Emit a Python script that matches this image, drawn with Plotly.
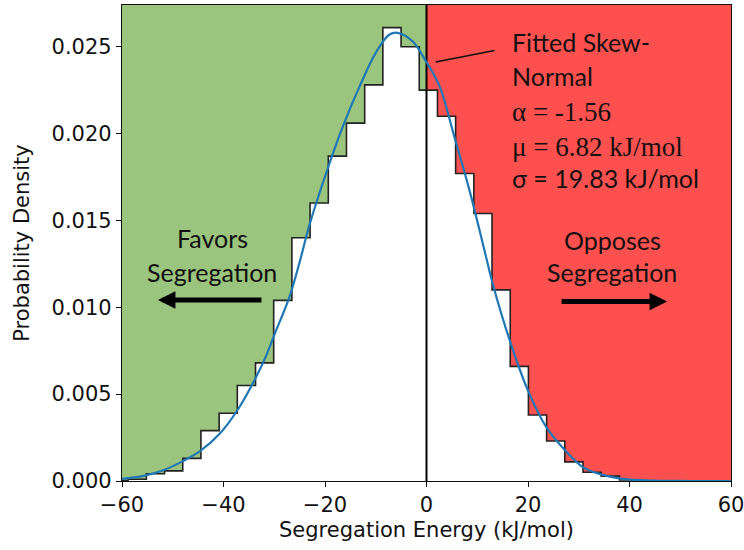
import plotly.graph_objects as go

# ---- data ----
bin_edges = [-62.37, -58.79, -55.20, -51.62, -48.03, -44.45, -40.86, -37.28, -33.69,
             -30.11, -26.52, -22.94, -19.35, -15.77, -12.18, -8.60, -5.01, -1.43,
             2.16, 5.74, 9.33, 12.91, 16.50, 20.08, 23.67, 27.25, 30.84, 34.42,
             38.01, 41.60]
bin_density = [0.00003, 0.0001, 0.00042, 0.00058, 0.0013, 0.0029, 0.0039, 0.0055,
               0.0068, 0.0104, 0.0140, 0.0160, 0.0187, 0.0206, 0.0228, 0.0261,
               0.0250, 0.0225, 0.0210, 0.0177, 0.0154, 0.0110, 0.0066, 0.0038,
               0.0023, 0.0011, 0.0005, 0.00028, 0.00006]

fit_x = [-60, -56, -52, -48.3, -44.7, -40.8, -37.2, -33.9, -31.6, -30.0, -27.0,
         -25.0, -23.1, -19.8, -16.5, -13.2, -9.9, -7.3, -5.7, -2.7, -0.4, 2.6,
         5.5, 8.5, 11.4, 13.1, 16.4, 20.0, 23.6, 27.2, 30.8, 34.7, 38.7, 45, 52, 60]
fit_y = [0.00012, 0.00028, 0.0006, 0.0011, 0.0017, 0.0027, 0.0041, 0.0058, 0.0072,
         0.0084, 0.0106, 0.0126, 0.0147, 0.0177, 0.0204, 0.0227, 0.0247, 0.0257,
         0.0258, 0.0253, 0.0243, 0.0227, 0.0198, 0.0167, 0.0133, 0.0113, 0.0081,
         0.0052, 0.0031, 0.0018, 0.0008, 0.00035, 0.00012, 0.00002, 0.0, 0.0]

x_ticks = [-60, -40, -20, 0, 20, 40, 60]
y_ticks = [0.000, 0.005, 0.010, 0.015, 0.020, 0.025]
x_range = [-60, 60]
y_range = [0, 0.0274]

GREEN = "#9BC47E"
RED = "#FF5050"
INK = "#111111"

centers = [(a + b) / 2 for a, b in zip(bin_edges[:-1], bin_edges[1:])]
widths = [b - a for a, b in zip(bin_edges[:-1], bin_edges[1:])]

step_x = [bin_edges[0]] + bin_edges
step_y = [0] + bin_density + [0]

fig = go.Figure()

# white area under histogram
fig.add_trace(go.Bar(x=centers, y=bin_density, width=widths,
                     marker=dict(color="white", line=dict(width=0)),
                     hoverinfo="skip", showlegend=False))
# histogram outline
fig.add_trace(go.Scatter(x=step_x, y=step_y, mode="lines", line_shape="hv",
                         line=dict(color="#222222", width=1.6), showlegend=False))
# zero line
fig.add_trace(go.Scatter(x=[0, 0], y=y_range, mode="lines",
                         line=dict(color="black", width=2), showlegend=False))
# fitted skew-normal
fig.add_trace(go.Scatter(x=fit_x, y=fit_y, mode="lines", line_shape="spline",
                         line=dict(color="#1f77b4", width=2.2), showlegend=False))

# background regions
fig.add_shape(type="rect", xref="x", yref="y", x0=x_range[0], x1=0,
              y0=y_range[0], y1=y_range[1], fillcolor=GREEN, line_width=0, layer="below")
fig.add_shape(type="rect", xref="x", yref="y", x0=0, x1=x_range[1],
              y0=y_range[0], y1=y_range[1], fillcolor=RED, line_width=0, layer="below")
# leader line to the curve
fig.add_shape(type="line", xref="x", yref="y", x0=1.8, y0=0.02412, x1=13.4, y1=0.02478,
              line=dict(color=INK, width=1.6))

sans = "Lato"
serif = "Liberation Serif"
anns = [
    dict(text="Fitted Skew-", x=0.637, y=0.922, xanchor="left", font=dict(family=sans, size=25)),
    dict(text="Normal", x=0.637, y=0.851, xanchor="left", font=dict(family=sans, size=25)),
    dict(text="α = -1.56", x=0.637, y=0.775, xanchor="left", font=dict(family=serif, size=27)),
    dict(text="μ = 6.82 kJ/mol", x=0.637, y=0.702, xanchor="left", font=dict(family=serif, size=27)),
    dict(text="σ = 19.83 kJ/mol", x=0.637, y=0.637, xanchor="left", font=dict(family=sans, size=25)),
    dict(text="Favors", x=0.148, y=0.511, xanchor="center", font=dict(family=sans, size=25)),
    dict(text="Segregation", x=0.148, y=0.439, xanchor="center", font=dict(family=sans, size=25)),
    dict(text="Opposes", x=0.805, y=0.506, xanchor="center", font=dict(family=sans, size=25)),
    dict(text="Segregation", x=0.805, y=0.439, xanchor="center", font=dict(family=sans, size=25)),
]
for a in anns:
    a.update(xref="paper", yref="paper", yanchor="middle", showarrow=False)
    a["font"]["color"] = INK
    fig.add_annotation(**a)

# direction arrows
fig.add_annotation(x=0.059, y=0.380, xref="paper", yref="paper", ax=105, ay=0,
                   text="", showarrow=True, arrowhead=2, arrowsize=0.7, arrowwidth=5,
                   arrowcolor="black")
fig.add_annotation(x=0.895, y=0.377, xref="paper", yref="paper", ax=-107, ay=0,
                   text="", showarrow=True, arrowhead=2, arrowsize=0.7, arrowwidth=5,
                   arrowcolor="black")

axis_font = dict(family="DejaVu Sans", size=21, color=INK)
fig.update_xaxes(range=x_range, tickvals=x_ticks, ticks="outside", ticklen=5,
                 tickcolor=INK, showgrid=False, zeroline=False, showline=True,
                 linecolor=INK, linewidth=1.2, mirror=True, tickfont=axis_font,
                 automargin=False, ticklabeloverflow="allow",
                 title=dict(text="Segregation Energy (kJ/mol)", font=axis_font, standoff=6))
fig.update_yaxes(range=y_range, tickvals=y_ticks, tickformat=".3f", ticks="outside",
                 ticklen=5, tickcolor=INK, showgrid=False, zeroline=False, showline=True,
                 linecolor=INK, linewidth=1.2, mirror=True, tickfont=axis_font,
                 automargin=False, ticklabeloverflow="allow",
                 title=dict(text="Probability Density", font=axis_font, standoff=16))

fig.update_layout(width=744, height=550, margin=dict(l=122, r=13, t=5, b=69),
                  paper_bgcolor="white", plot_bgcolor="white", bargap=0,
                  showlegend=False)

fig.write_html("out.html", config={"displayModeBar": False},
               post_script="document.body.style.margin='0';document.body.style.padding='0';")
